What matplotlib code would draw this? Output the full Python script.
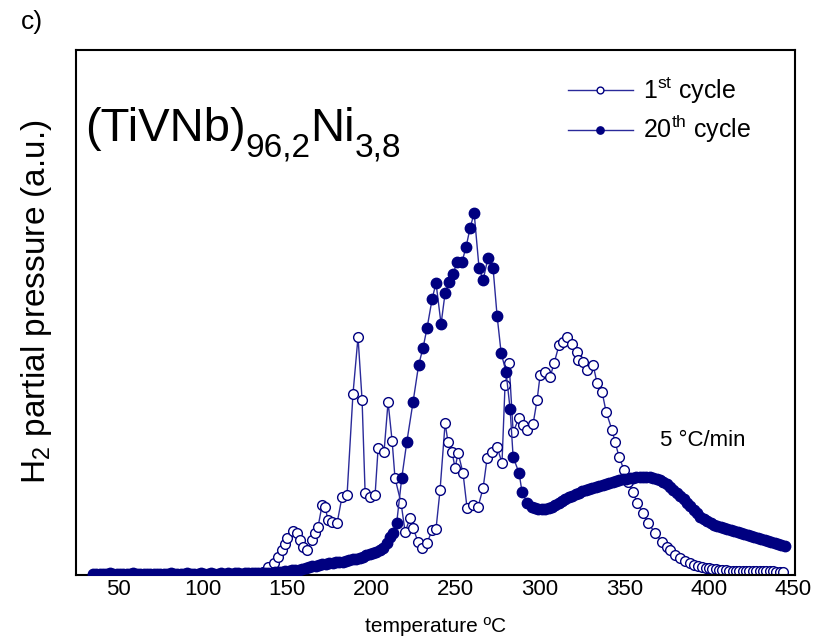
import numpy as np
import matplotlib
matplotlib.use('Agg')
import matplotlib.pyplot as plt
from matplotlib.transforms import offset_copy

plt.rcParams['font.family'] = ['Liberation Sans', 'DejaVu Sans']
plt.rcParams['mathtext.fontset'] = 'custom'
plt.rcParams['mathtext.rm'] = 'Liberation Sans'
plt.rcParams['mathtext.it'] = 'Liberation Sans:italic'

# ---- 20th cycle (filled) ----
t20_low = np.arange(35, 215, 2)
v20_low = [1.5, 1.5, 1.5, 1.5, 1.5, 2.0, 1.5, 1.5, 1.5, 1.5,
           1.5, 1.5, 2.0, 1.5, 1.5, 1.5, 1.5, 1.5, 1.5, 1.5,
           1.5, 1.5, 1.5, 2.0, 1.5, 1.5, 1.5, 1.5, 2.5, 1.5,
           1.5, 1.5, 2.0, 1.5, 1.5, 2.0, 1.5, 1.5, 2.0, 1.5,
           2.0, 1.5, 2.0, 2.0, 1.5, 2.0, 2.0, 2.5, 2.0, 2.0,
           2.0, 2.0, 2.5, 2.5, 3.0, 3.0, 3.5, 4.0, 4.5, 5.0,
           5.0, 5.5, 6.0, 7.0, 8.0, 9.0, 9.5, 10, 11, 11.5,
           12, 12.5, 13, 13, 13.5, 14, 15, 16, 16.5, 17,
           18, 20, 21, 22, 23, 25, 27, 32, 38, 42]
t20_mid = [215, 218, 221, 224.7, 228, 230.6, 233, 236, 238.3, 241.3,
           243.7, 246, 248.4, 250.8, 253.7, 256.1, 258.5, 260.9, 263.8, 266.2,
           269.1, 272.1, 274.5, 276.9, 279.8, 282.2, 284, 287.5, 289.3, 292.3]
v20_mid = [52, 97, 133, 173, 210, 227, 247, 276, 292, 251,
           282, 293, 301, 313, 313, 328, 347, 362, 307, 295,
           317, 307, 259, 222, 203, 166, 118, 102, 83, 72]
t20_high = np.arange(295, 446, 2)
v20_high = [68, 67, 66, 66, 66, 67, 68, 70, 72, 74,
            76, 78, 79, 81, 82, 84, 85, 86, 87, 88,
            89, 90, 91, 92, 93, 94, 95, 96, 96, 97,
            97, 98, 98, 98, 98, 98, 97, 96, 95, 93,
            91, 88, 85, 82, 79, 76, 72, 69, 65, 62,
            58, 56, 54, 52, 50, 49, 48, 47, 46, 45,
            44, 43, 42, 41, 40, 39, 38, 37, 36, 35,
            34, 33, 32, 31, 30, 29]

# ---- 1st cycle (open) ----
t1 = [136, 138.8, 142.3, 144.7, 147.1, 148.9, 150.0, 153.6, 156.0, 157.7,
      159.5, 161.9, 164.9, 166.6, 168.4, 170.8, 172.6, 174.3, 176.7, 179.7,
      182.6, 185.6, 189.1, 192.1, 194.5, 196.3, 199.2, 202.2, 204.0, 207.5,
      209.9, 212.3, 214.0, 217.6, 220.0, 222.9, 224.7, 227.7, 230.0, 233.0,
      236.0, 238.3, 240.7, 243.7, 245.4, 247.8, 249.6, 251.4, 254.3, 256.7,
      260.3, 263.2, 266.2, 268.6, 271.5, 274.5, 277.4, 279.2, 281.6, 284.0,
      287.5, 289.9, 292.3, 295.8, 298.2, 300.0, 302.9, 305.9, 308.3, 311.2,
      313.6, 316.0, 318.9, 321.9, 322.5, 325.4, 327.8, 331.4, 333.7, 336.7,
      339.1, 342.6, 344.4, 346.8, 349.7, 352.1, 355.1, 357.4, 361.0, 364.0,
      368.1, 372.3, 375, 377, 380, 383, 386, 388.5, 391, 393.5,
      396, 398, 400, 402, 404, 406, 408, 410, 412, 414,
      416, 418, 420, 422, 424, 426, 428, 430, 432, 434,
      436, 438, 440, 442, 444]
v1 = [3, 8, 12, 18, 25, 31, 37, 44, 42, 35,
      28, 25, 35, 42, 48, 70, 68, 55, 53, 52,
      78, 80, 181, 238, 175, 82, 78, 80, 127, 123,
      173, 134, 97, 72, 43, 57, 47, 33, 27, 32,
      45, 46, 85, 152, 133, 123, 107, 122, 102, 67,
      70, 68, 87, 117, 123, 128, 112, 190, 212, 143,
      157, 150, 145, 151, 175, 200, 203, 198, 212, 230,
      233, 238, 231, 223, 215, 213, 205, 210, 192, 183,
      163, 145, 133, 118, 105, 93, 83, 72, 62, 52,
      42, 33, 28, 25, 20, 17, 14, 12, 10, 9,
      8, 7.5, 7, 6.5, 6, 5.5, 5, 5, 4.5, 4,
      4, 4, 4, 4, 4, 4, 4, 4, 4, 4,
      4, 4, 3.5, 3.5, 3]

x_ticks = [50, 100, 150, 200, 250, 300, 350, 400, 450]

# title pieces: (text, font size, baseline drop in px)
title_parts = [('(TiVNb)', 34, 0), ('96,2', 24, 15), ('Ni', 34, 0), ('3,8', 24, 15)]

navy = '#000080'
line_c = '#2a2a9a'

t20 = np.concatenate([t20_low, t20_mid, t20_high])
v20 = np.concatenate([v20_low, v20_mid, v20_high])

fig = plt.figure(figsize=(8.14, 6.41), dpi=100)
ax = fig.add_axes([76 / 814, 66 / 641, 719 / 814, 525 / 641])

ax.plot(t1, v1, '-o', color=line_c, lw=1.0, ms=7, mfc='white',
        mec=navy, mew=1.0, zorder=2, label=r'1$^{\mathregular{st}}$ cycle')
ax.plot(t20, v20, '-o', color=line_c, lw=1.0, ms=7.5, mfc=navy,
        mec=navy, mew=1.0, zorder=3, label=r'20$^{\mathregular{th}}$ cycle')

ax.set_xlim(25, 451)
ax.set_ylim(0, 525)
ax.set_xticks(x_ticks)
ax.set_xticklabels([str(t) for t in x_ticks])
ax.set_yticks([])
ax.tick_params(axis='x', length=0, pad=3, labelsize=16)
for s in ax.spines.values():
    s.set_linewidth(1.5)

ax.set_xlabel('temperature ºC', fontsize=15, labelpad=12)
ax.set_ylabel(r'H$_{\mathregular{2}}$ partial pressure (a.u.)', fontsize=24)
ax.yaxis.set_label_coords(-0.03, 0.52)

# alloy name, built piece by piece so the subscripts sit low like the original
renderer = fig.canvas.get_renderer()
dx = 0.0
for txt, size, drop in title_parts:
    tr = offset_copy(ax.transAxes, fig=fig, x=dx, y=-drop, units='dots')
    t = ax.text(0.012, 0.826, txt, transform=tr, fontsize=size,
                va='baseline', ha='left')
    dx += t.get_window_extent(renderer).width

ax.text(0.872, 0.257, '5 °C/min', transform=ax.transAxes, fontsize=16,
        va='center', ha='center')
fig.text(32 / 814, 1 - 22 / 641, 'c)', fontsize=19, va='center', ha='center')

ax.legend(loc='upper right', bbox_to_anchor=(0.97, 0.995), frameon=False,
          fontsize=18, handlelength=2.6, markerscale=0.7, labelspacing=0.3,
          handletextpad=0.4)

fig.savefig('out.png', dpi=100)
